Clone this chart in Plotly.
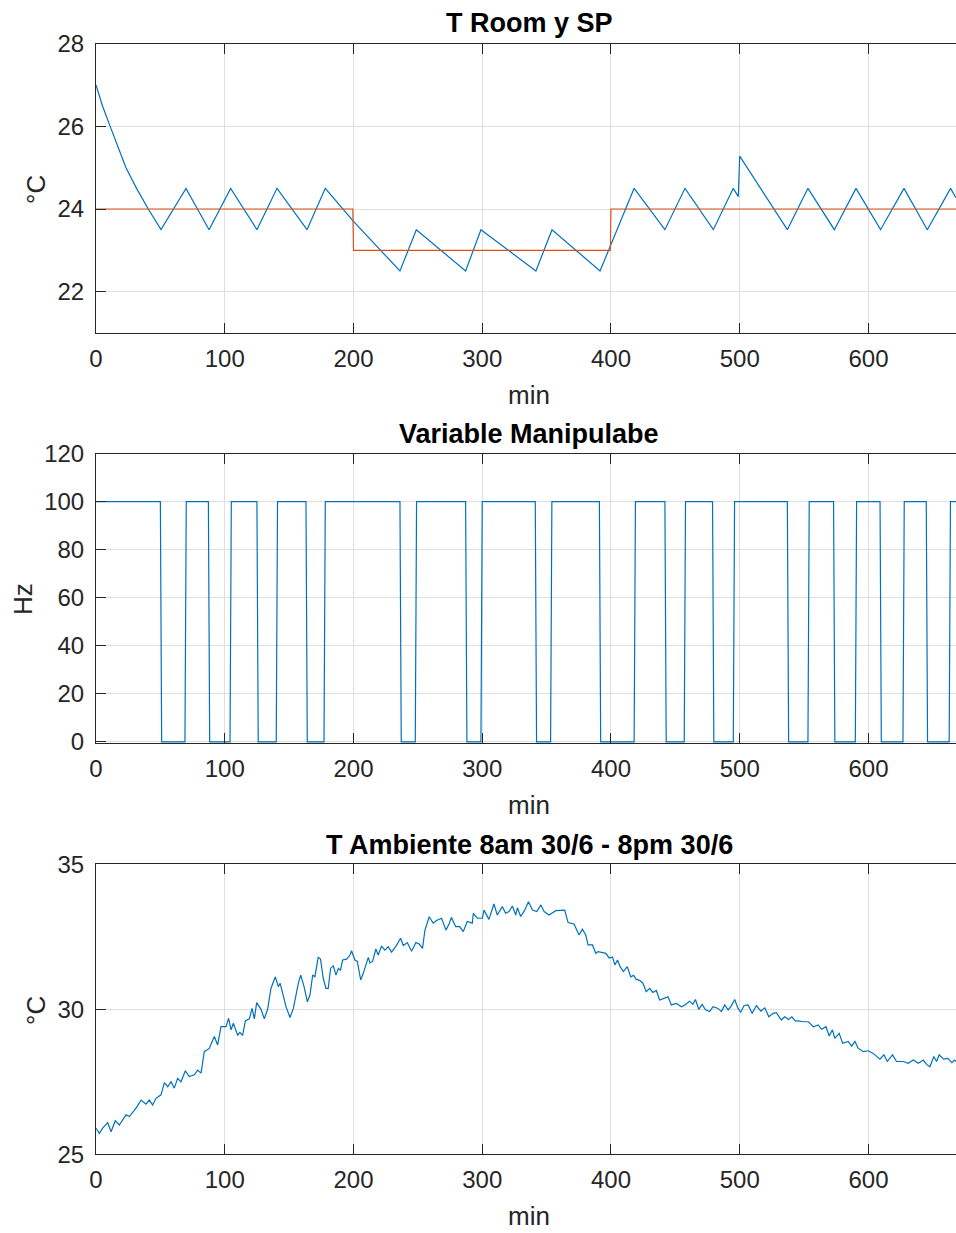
import plotly.graph_objects as go

# ---------------- data ----------------
# Panel 1: room temperature (vertices of the simulated trace) and set point
room_t = [0, 5, 11, 17, 23.3, 31.5, 40.6, 50.5, 69.9, 87.8, 104.6, 125, 140.6, 163.9, 178.1, 200,
          236.1, 248.8, 287.1, 299, 341.7, 354.2, 391.5, 418, 441.9, 457.5, 479.5, 495, 498.9,
          500, 537, 553, 573.5, 590.3, 609.4, 627.6, 645.7, 663.8, 668]
room_y = [27.0, 26.5, 26.0, 25.5, 25.0, 24.5, 24.0, 23.5, 24.5, 23.5, 24.5, 23.5, 24.5, 23.5,
          24.5, 23.7, 22.5, 23.5, 22.5, 23.5, 22.5, 23.5, 22.5, 24.5, 23.5, 24.5, 23.5, 24.5,
          24.3, 25.28, 23.5, 24.5, 23.5, 24.5, 23.5, 24.5, 23.5, 24.5, 24.27]
sp_t = [0, 199.5, 200, 399.5, 400, 668]
sp_y = [24, 24, 23, 23, 24, 24]

# Panel 2: manipulated variable switching times (min) and levels (Hz)
mv_off_t = [50, 87.3, 125, 163.1, 236.1, 287.1, 341.2, 391, 441.9, 478.9, 537, 572.9, 609, 644.9]
mv_on_t = [69.1, 104.1, 140, 177.1, 248, 299, 353.1, 418, 456.9, 495, 553, 589.8, 626.8, 662.7]
mv_high = 100
mv_low = 0
t_end = 668

# Panel 3: ambient temperature
amb_t = [0, 2.6, 5.2, 9.1, 11.7, 15, 18.1, 23.3, 25.9, 31.1, 35, 38.8, 41.4, 44, 46.6, 50.5, 53.1,
         55.7, 58.3, 60.8, 63.4, 66, 69.4, 72.5, 76.4, 79, 81.6, 84.1, 88, 91.9, 94.5, 97.1, 101,
         103, 104.9, 106.7, 110, 111.8, 113.9, 116, 119.1, 121.2, 123, 124.8, 128.2, 130.7, 133.3,
         135.9, 139.3, 141.6, 143, 145.5, 147.6, 150.7, 153.3, 157.2, 159, 161.6, 164.2, 166.2,
         168.3, 170, 172.6, 174.4, 176.5, 178.6, 180.4, 182.2, 184.3, 186.4, 188.2, 189.9, 191.6,
         194.7, 197.3, 198.5, 201.1, 203, 205.6, 207.6, 211.5, 212.8, 214.8, 217.4, 219.2, 221.8,
         224.4, 227, 229.6, 233, 236.6, 238.7, 241.8, 245.1, 248.5, 251.1, 253.6, 255.5, 258.8,
         261.9, 264.5, 268.4, 271.8, 274.4, 276.0, 279.4, 282.5, 285.3, 288.4, 292.3, 293.1, 296.2,
         300.1, 301.4, 305.2, 309.1, 311.7, 315.6, 318.2, 320.8, 323.4, 326, 327.3, 329.9, 333,
         335.9, 339, 342.4, 345.5, 348.1, 351.9, 357.1, 361, 364.1, 366.7, 371.3, 375.2, 377.8,
         380.4, 382.2, 385.6, 388.2, 390, 393.4, 396, 398.6, 401.2, 403, 405.1, 407.1, 409.7,
         412.7, 415.3, 417.5, 419.7, 422.2, 424.8, 427.4, 430.0, 432.6, 435.2, 437.8, 441.7, 444.3,
         446.9, 450.8, 454.7, 457.3, 461.1, 463.6, 465.6, 468.2, 470.8, 473.4, 476.7, 479.3, 483.2,
         485.8, 488.3, 491, 493.5, 496.1, 498.7, 500.8, 503.4, 506.5, 509.6, 513, 516.4, 519.5,
         522.6, 526, 528.5, 532.3, 534.9, 538, 540.5, 543.2, 545.5, 549.4, 553.3, 557.2, 561,
         563.6, 567, 569.5, 572, 573.9, 577.3, 579.9, 584.3, 586.9, 589.5, 592, 595.9, 599.8,
         603.7, 606.3, 608.9, 612, 614.6, 618.7, 621.8, 627, 630.9, 634.8, 638.7, 642.6, 645.2,
         647.7, 650.8, 652.9, 654.9, 658.3, 661.6, 664.8, 666.9, 668]
amb_y = [25.9, 25.72, 25.9, 26.09, 25.78, 26.16, 26.01, 26.36, 26.3, 26.59, 26.87, 26.73, 26.87,
         26.7, 26.93, 27.05, 27.47, 27.33, 27.5, 27.28, 27.62, 27.5, 27.88, 27.68, 27.74, 27.9,
         27.8, 28.54, 28.65, 29.06, 28.77, 29.4, 29.4, 29.69, 29.29, 29.52, 29.11, 29.2, 29.1,
         29.6, 29.67, 30.03, 29.67, 30.23, 30.0, 29.67, 30.0, 30.72, 31.12, 30.78, 30.9, 30.49,
         30.09, 29.72, 30.03, 30.9, 31.18, 30.78, 30.26, 30.49, 31.18, 31.12, 31.79, 31.73, 31.07,
         30.72, 30.72, 31.41, 31.5, 31.18, 31.41, 31.35, 31.7, 31.73, 31.87, 32.02, 31.7, 31.65,
         31.01, 31.24, 31.79, 31.6, 31.65, 32.08, 31.87, 32.18, 32.04, 32.16, 31.97, 32.18, 32.45,
         32.2, 32.3, 32.0, 32.3, 32.25, 32.1, 32.73, 33.19, 32.97, 33.06, 33.14, 32.73, 32.96,
         33.17, 32.85, 32.85, 32.68, 33.03, 32.97, 33.31, 33.14, 33.14, 33.42, 33.1, 33.63, 33.25,
         33.54, 33.31, 33.37, 33.56, 33.25, 33.5, 33.2, 33.42, 33.71, 33.42, 33.37, 33.6, 33.37,
         33.25, 33.4, 33.42, 33.42, 32.99, 32.94, 32.56, 32.76, 32.56, 32.22, 32.22, 31.93, 31.99,
         31.95, 31.93, 31.77, 31.8, 31.53, 31.7, 31.47, 31.3, 31.47, 31.12, 31.17, 31.03, 31.0,
         30.9, 30.61, 30.72, 30.58, 30.65, 30.32, 30.37, 30.43, 30.15, 30.2, 30.09, 30.15, 30.28,
         30.17, 30.34, 30.0, 30.17, 29.98, 29.92, 30.09, 30.03, 29.92, 30.15, 29.98, 30.12, 30.34,
         30.03, 29.9, 30.13, 30.15, 29.86, 30.13, 29.94, 30.05, 29.74, 29.86, 29.88, 29.63, 29.74,
         29.65, 29.74, 29.6, 29.6, 29.57, 29.57, 29.4, 29.46, 29.31, 29.4, 29.08, 29.29, 29.0,
         29.17, 28.83, 28.89, 28.73, 28.89, 28.66, 28.54, 28.57, 28.48, 28.39, 28.28, 28.43, 28.2,
         28.43, 28.2, 28.2, 28.14, 28.25, 28.14, 28.25, 28.1, 28.02, 28.37, 28.2, 28.43, 28.28,
         28.31, 28.16, 28.25, 28.2]

titles = ["T Room y SP", "Variable Manipulabe", "T Ambiente 8am 30/6 - 8pm 30/6"]
ylabels = ["°C", "Hz", "°C"]
xlabel = "min"
x_ticks = [0, 100, 200, 300, 400, 500, 600]
y1_ticks = [22, 24, 26, 28]
y2_ticks = [0, 20, 40, 60, 80, 100, 120]
y3_ticks = [25, 30, 35]

# build step vertices for the manipulated variable (1-min transitions)
mv_t = [0]
mv_hz = [mv_high]
for off, on in zip(mv_off_t, mv_on_t):
    mv_t += [off, off + 1, on, on + 1]
    mv_hz += [mv_high, mv_low, mv_low, mv_high]
mv_t.append(t_end)
mv_hz.append(mv_high)

# ---------------- figure ----------------
W, H = 956, 1233
BLUE = "#0072BD"
ORANGE = "#D95319"
AX = "#262626"
GRID = "#dfdfdf"
FONT = "Arial, Liberation Sans, Helvetica, sans-serif"

# plot areas in pixels (top, bottom)
areas = [(43.7, 333.0), (453.7, 743.0), (864.3, 1154.3)]
doms = [[1 - b / H, 1 - t / H] for t, b in areas]

fig = go.Figure()
fig.add_trace(go.Scatter(x=room_t, y=room_y, mode="lines", line=dict(color=BLUE, width=1.2),
                         xaxis="x", yaxis="y", showlegend=False))
fig.add_trace(go.Scatter(x=sp_t, y=sp_y, mode="lines", line=dict(color=ORANGE, width=1.2),
                         xaxis="x", yaxis="y", showlegend=False))
fig.add_trace(go.Scatter(x=mv_t, y=mv_hz, mode="lines", line=dict(color=BLUE, width=1.2),
                         xaxis="x2", yaxis="y2", showlegend=False))
fig.add_trace(go.Scatter(x=amb_t, y=amb_y, mode="lines", line=dict(color=BLUE, width=1.2),
                         xaxis="x3", yaxis="y3", showlegend=False))

common_x = dict(range=[0, 668], tickvals=x_ticks, ticks="inside", ticklen=10, tickwidth=1,
                tickcolor=AX, showline=True, linecolor=AX, linewidth=1, mirror="allticks",
                showgrid=True, gridcolor=GRID, gridwidth=1, zeroline=False,
                tickfont=dict(family=FONT, size=24, color=AX), ticklabelstandoff=4)
common_y = dict(ticks="inside", ticklen=10, tickwidth=1, tickcolor=AX, showline=True,
                linecolor=AX, linewidth=1, showgrid=True, gridcolor=GRID, gridwidth=1,
                zeroline=False, tickfont=dict(family=FONT, size=24, color=AX),
                ticklabelstandoff=6)

layout = dict(width=W, height=H, autosize=False, plot_bgcolor="white", paper_bgcolor="white",
              margin=dict(l=96, r=0, t=0, b=0, pad=0, autoexpand=False), showlegend=False)
layout["xaxis"] = dict(common_x, domain=[0, 1], anchor="y")
layout["xaxis2"] = dict(common_x, domain=[0, 1], anchor="y2")
layout["xaxis3"] = dict(common_x, domain=[0, 1], anchor="y3")
layout["yaxis"] = dict(common_y, domain=doms[0], anchor="x", range=[21, 28], tickvals=y1_ticks)
layout["yaxis2"] = dict(common_y, domain=doms[1], anchor="x2", range=[-0.5, 120], tickvals=y2_ticks)
layout["yaxis3"] = dict(common_y, domain=doms[2], anchor="x3", range=[25, 35], tickvals=y3_ticks)
fig.update_layout(**layout)

plot_w = W - 96
def px_x(p):
    return (p - 96) / plot_w

def px_y(p):
    return 1 - p / H

title_y = [23.5, 433.7, 845.0]
xlab_y = [394.5, 804.5, 1216.0]
ylab_x = [36, 23, 36]
ylab_y = [190, 599, 1011]
ann = []
for i in range(3):
    ann.append(dict(text="<b>%s</b>" % titles[i], x=px_x(529), y=px_y(title_y[i]),
                    xref="paper", yref="paper", xanchor="center", yanchor="middle",
                    showarrow=False, font=dict(family=FONT, size=27, color="black")))
    ann.append(dict(text=xlabel, x=px_x(529), y=px_y(xlab_y[i]), xref="paper", yref="paper",
                    xanchor="center", yanchor="middle", showarrow=False,
                    font=dict(family=FONT, size=26, color=AX)))
    ann.append(dict(text=ylabels[i], x=px_x(ylab_x[i]), y=px_y(ylab_y[i]), xref="paper",
                    yref="paper", xanchor="center", yanchor="middle", textangle=-90,
                    showarrow=False, font=dict(family=FONT, size=26, color=AX)))
fig.update_layout(annotations=ann)

fig.write_html("out.html", config={"displayModeBar": False},
               post_script="document.body.style.margin='0';document.body.style.overflow='hidden';")
